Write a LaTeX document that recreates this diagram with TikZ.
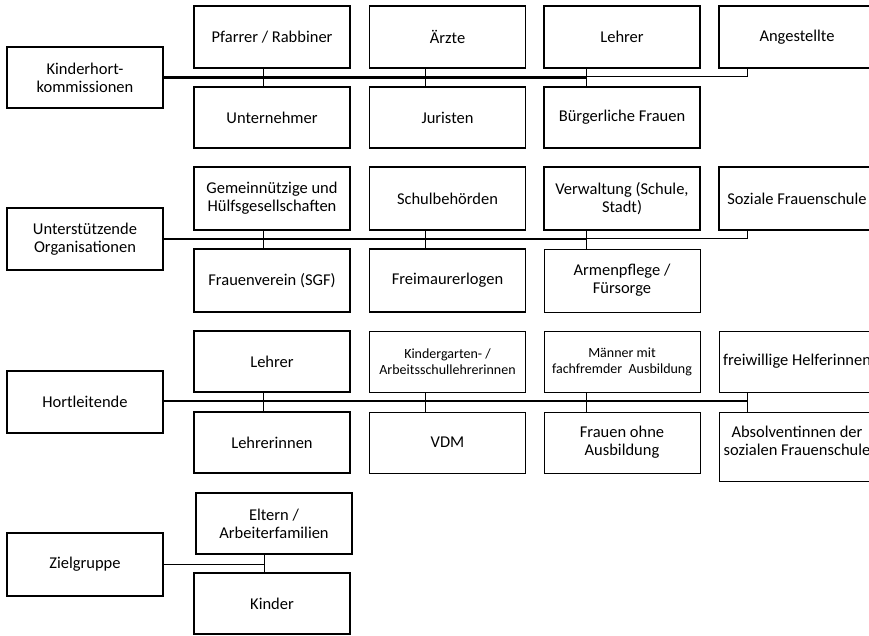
\documentclass[tikz,border=0pt]{standalone}
\usepackage{fontspec}
\setmainfont{Carlito}
\begin{document}
\begin{tikzpicture}[x=1pt,y=-1pt,
  box/.style={draw, line width=1.4pt, align=center, inner sep=0pt,
    minimum width=156pt, minimum height=61pt,
    font=\fontsize{16.5}{18}\selectfont},
  thinbox/.style={box, line width=0.9pt},
  smalltxt/.style={font=\fontsize{14}{16}\selectfont},
  txt/.style={align=center, inner sep=0pt, font=\fontsize{16.5}{18}\selectfont},
  bus/.style={line width=2.1pt},
  link/.style={line width=1pt}]
\clip (0,0) rectangle (869,635);
\fill[white] (0,0) rectangle (869,635);

% ---------- Row 1
\node[box] (K) at (85,77.5) {Kinderhort-\\kommissionen};
\node[box, minimum height=62pt] (Pf) at (272,37) {Pfarrer / Rabbiner};
\node[box, minimum height=62pt] (Ae) at (447.5,37) {Ärzte};
\node[box, minimum height=62pt] (Le) at (622,37) {Lehrer};
\node[box, minimum height=62pt] (An) at (797,37) {Angestellte};
\node[box] (Un) at (272,117.5) {Unternehmer};
\node[box] (Ju) at (447.5,117.5) {Juristen};
\node[box] (Bf) at (622,117.5) {Bürgerliche Frauen};
\coordinate (j11) at (263,77.5);
\coordinate (j12) at (425,77.5);
\coordinate (j13) at (586,77.5);
\coordinate (j14) at (747,76.5);
\draw[bus] (K.east) -- (j13);
\draw[link] (j13 |- j14) -- (j14) -- (An.south -| j14);
\draw[link] (Pf.south -| j11) -- (Un.north -| j11);
\draw[link] (Ae.south -| j12) -- (Ju.north -| j12);
\draw[link] (Le.south -| j13) -- (Bf.north -| j13);

% ---------- Row 2
\node[box, minimum height=62pt] (U) at (85,239) {Unterstützende\\Organisationen};
\node[box, minimum height=63pt] (Ge) at (272,198.5) {Gemeinnützige und\\Hülfsgesellschaften};
\node[box, minimum height=63pt] (Sb) at (447.5,198.5) {Schulbehörden};
\node[box, minimum height=63pt] (Vw) at (622,198.5) {Verwaltung (Schule,\\Stadt)};
\node[box, minimum height=63pt] (Sf) at (797,198.5) {Soziale Frauenschule};
\node[box, minimum height=63pt] (Fv) at (272,280.5) {Frauenverein (SGF)};
\node[box, minimum height=63pt] (Fm) at (447.5,280.5) {Freimaurerlogen};
\node[thinbox, minimum height=63pt] (Ap) at (622,280.5) {Armenpflege /\\Fürsorge};
\coordinate (j21) at (263,239);
\coordinate (j22) at (425,239);
\coordinate (j23) at (586,239);
\coordinate (j24) at (747,238);
\draw[bus] (U.east) -- (j23);
\draw[link] (j23 |- j24) -- (j24) -- (Sf.south -| j24);
\draw[link] (Ge.south -| j21) -- (Fv.north -| j21);
\draw[link] (Sb.south -| j22) -- (Fm.north -| j22);
\draw[link] (Vw.south -| j23) -- (Ap.north -| j23);

% ---------- Row 3
\node[box, minimum height=62pt] (H) at (85,402) {Hortleitende};
\node[box] (L3) at (272,361.5) {Lehrer};
\node[thinbox, smalltxt] (Kg) at (447.5,361.5) {Kindergarten- /\\Arbeitsschullehrerinnen};
\node[thinbox, smalltxt] (Mm) at (622,361.5) {Männer mit\\fachfremder~ Ausbildung};
\node[thinbox] (Fw) at (797,361.5) {freiwillige Helferinnen};
\node[box] (Li) at (272,442.5) {Lehrerinnen};
\node[thinbox] (Vd) at (447.5,442.5) {VDM};
\node[thinbox] (Fo) at (622,442.5) {Frauen ohne\\Ausbildung};
\node[thinbox, minimum height=69pt] (Ab) at (797,446.5) {};
\node[txt] (Abt) at (797,441) {Absolventinnen der\\sozialen Frauenschule};
\coordinate (j31) at (263,401);
\coordinate (j32) at (425,401);
\coordinate (j33) at (586,401);
\coordinate (j34) at (747,401);
\draw[bus] (H.east |- j31) -- (j34);
\draw[link] (L3.south -| j31) -- (Li.north -| j31);
\draw[link] (Kg.south -| j32) -- (Vd.north -| j32);
\draw[link] (Mm.south -| j33) -- (Fo.north -| j33);
\draw[link] (Fw.south -| j34) -- (Ab.north -| j34);

% ---------- Row 4
\node[box, minimum height=63pt] (Z) at (85,564.5) {Zielgruppe};
\node[box] (El) at (274,523.5) {Eltern /\\Arbeiterfamilien};
\node[box] (Ki) at (272,603.5) {Kinder};
\coordinate (j41) at (264,564.5);
\draw[line width=1.4pt] (Z.east) -- (j41);
\draw[link] (El.south -| j41) -- (Ki.north -| j41);
\end{tikzpicture}
\end{document}
